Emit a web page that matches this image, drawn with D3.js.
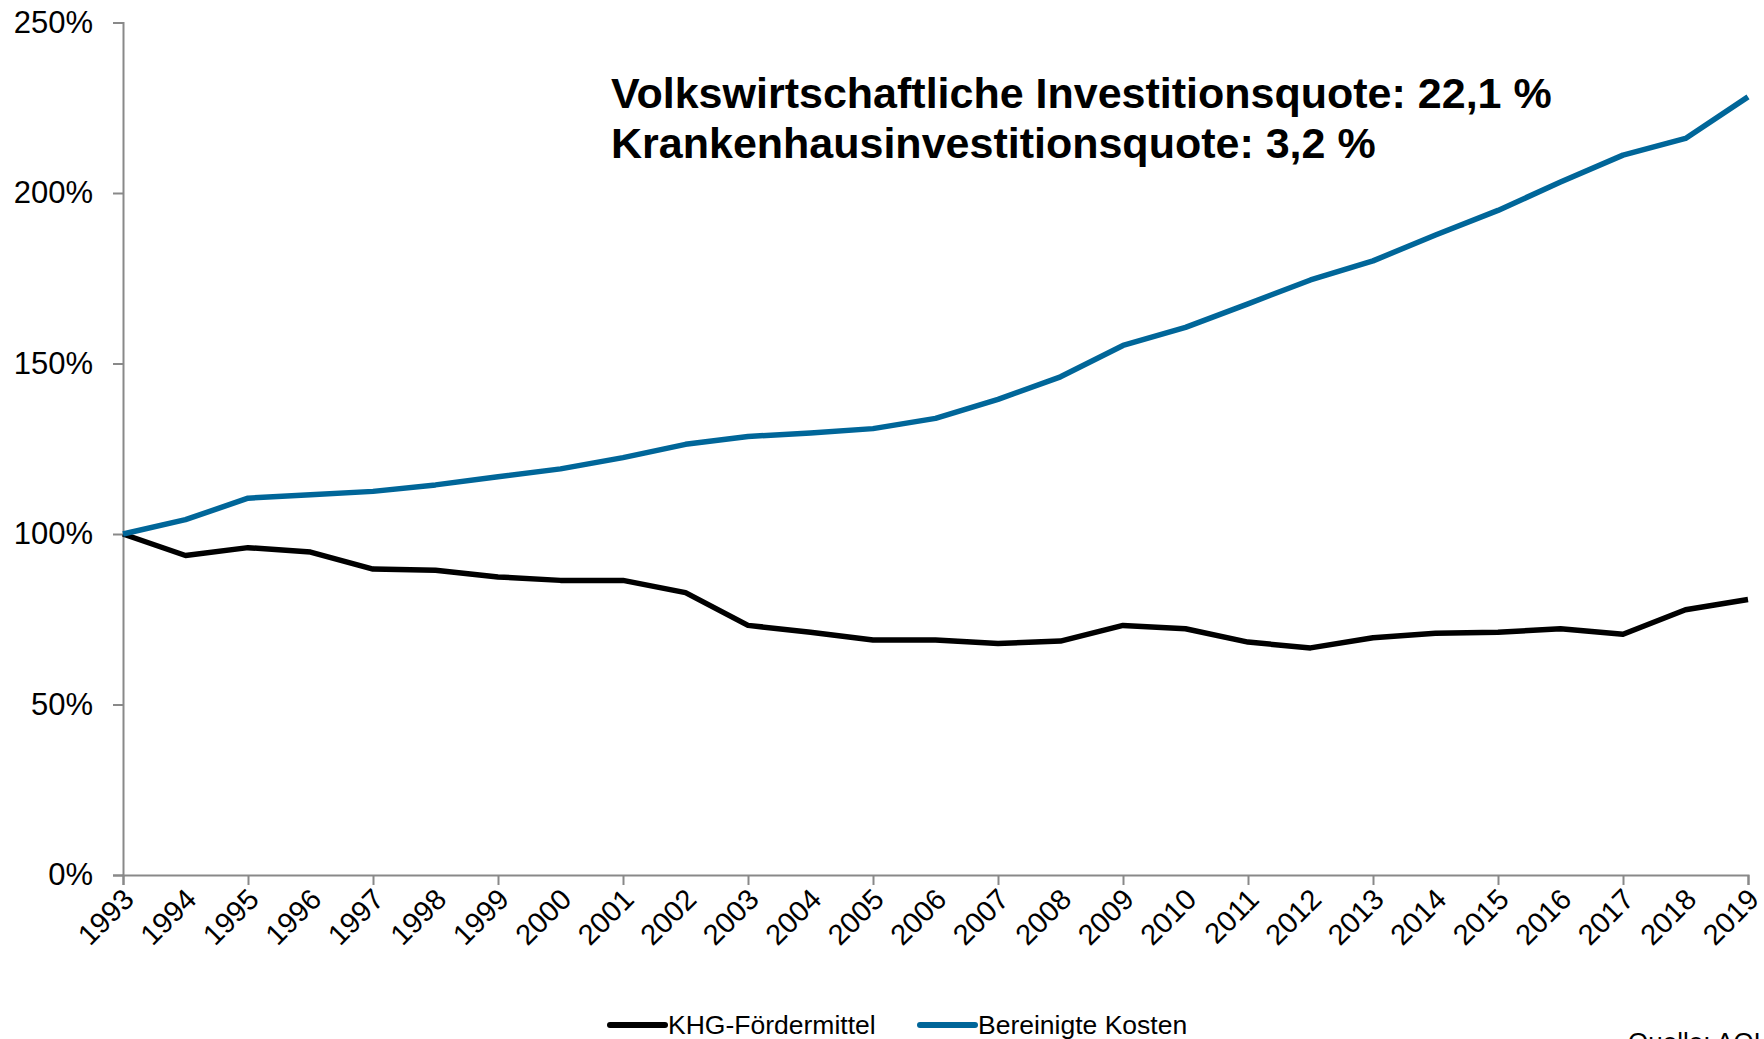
<!DOCTYPE html>
<html>
<head>
<meta charset="utf-8">
<script src="https://cdn.jsdelivr.net/npm/d3@7"></script>
<style>
  body { margin: 0; background: #fff; }
  svg { display: block; font-family: "Liberation Sans", Arial, sans-serif; }
</style>
</head>
<body>
<div id="chart"></div>
<script>
// data (index 1993 = 100%)
const years = d3.range(1993, 2020);
const khgFoerdermittel = [100, 93.7, 96, 94.7, 89.7, 89.4, 87.4, 86.4, 86.4, 82.8, 73.2, 71.2, 68.9, 68.9, 67.9, 68.6, 73.2, 72.2, 68.3, 66.6, 69.6, 70.9, 71.2, 72.2, 70.6, 77.8, 80.8];
const bereinigteKosten = [100, 104.2, 110.5, 111.5, 112.5, 114.4, 116.8, 119.1, 122.4, 126.3, 128.6, 129.6, 130.9, 133.9, 139.5, 146.1, 155.3, 160.6, 167.5, 174.5, 180.1, 187.7, 194.9, 203.2, 211.1, 216, 228.2];
const yTicks = [0, 50, 100, 150, 200, 250];
const seriesNames = ["KHG-Fördermittel", "Bereinigte Kosten"];
const seriesColors = ["#000000", "#006699"];
const noteLines = ["Volkswirtschaftliche Investitionsquote: 22,1 %", "Krankenhausinvestitionsquote: 3,2 %"];
const sourceText = "Quelle: AOLG";

const width = 1764, height = 1039;
const margin = { top: 22.5, right: 16, bottom: 164, left: 123 };

const svg = d3.select("#chart").append("svg")
  .attr("width", width)
  .attr("height", height);

svg.append("rect").attr("width", width).attr("height", height).attr("fill", "#fff");

// scales
const x = d3.scaleLinear()
  .domain([1993, 2019])
  .range([margin.left, width - margin.right]);

const y = d3.scaleLinear()
  .domain([0, 250])
  .range([height - margin.bottom, margin.top]);

// y axis
const yAxisG = svg.append("g")
  .attr("transform", `translate(${margin.left},0)`)
  .call(d3.axisLeft(y).tickValues(yTicks).tickSizeOuter(0).tickSize(10).tickPadding(20)
    .tickFormat(d => d + "%"));

// x axis
const xAxisG = svg.append("g")
  .attr("transform", `translate(0,${y(0)})`)
  .call(d3.axisBottom(x).tickValues(years).tickSizeOuter(0).tickSize(10).tickFormat(d3.format("d")));

// only every second year gets a tick mark
xAxisG.selectAll(".tick line").filter(d => (d - 1993) % 2 !== 0).remove();

xAxisG.selectAll(".tick text")
  .attr("text-anchor", "end")
  .attr("transform", "translate(5,19) rotate(-45)")
  .attr("dy", "0.35em")
  .attr("y", 0)
  .attr("x", 0);

[yAxisG, xAxisG].forEach(g => {
  g.select(".domain").attr("stroke", "#898989").attr("stroke-width", 2);
  g.selectAll(".tick line").attr("stroke", "#898989").attr("stroke-width", 2);
  g.selectAll(".tick text").attr("fill", "#000").style("font-size", "31px");
});
xAxisG.selectAll(".tick text").style("font-size", "29px");

// lines
const line = d3.line()
  .x((d, i) => x(years[i]))
  .y(d => y(d));

[khgFoerdermittel, bereinigteKosten].forEach((s, i) => {
  svg.append("path")
    .datum(s)
    .attr("fill", "none")
    .attr("stroke", seriesColors[i])
    .attr("stroke-width", 5.5)
    .attr("stroke-linejoin", "round")
    .attr("d", line);
});

// note text
svg.append("g").selectAll("text")
  .data(noteLines)
  .join("text")
  .attr("x", 611)
  .attr("y", (d, i) => 108 + i * 50)
  .style("font-size", "43px")
  .style("font-weight", "bold")
  .text(d => d);

// legend
const legendX = [610, 920];
const legend = svg.append("g").selectAll("g")
  .data(seriesNames)
  .join("g")
  .attr("transform", (d, i) => `translate(${legendX[i]},1025)`);

legend.append("line")
  .attr("x1", 0).attr("x2", 55)
  .attr("stroke", (d, i) => seriesColors[i])
  .attr("stroke-width", 6)
  .attr("stroke-linecap", "round");

legend.append("text")
  .attr("x", 58)
  .attr("y", 9)
  .style("font-size", "26.5px")
  .text(d => d);

// source, cut off at the bottom edge
svg.append("text")
  .attr("x", 1628)
  .attr("y", 1051)
  .style("font-size", "26px")
  .text(sourceText);
</script>
</body>
</html>
